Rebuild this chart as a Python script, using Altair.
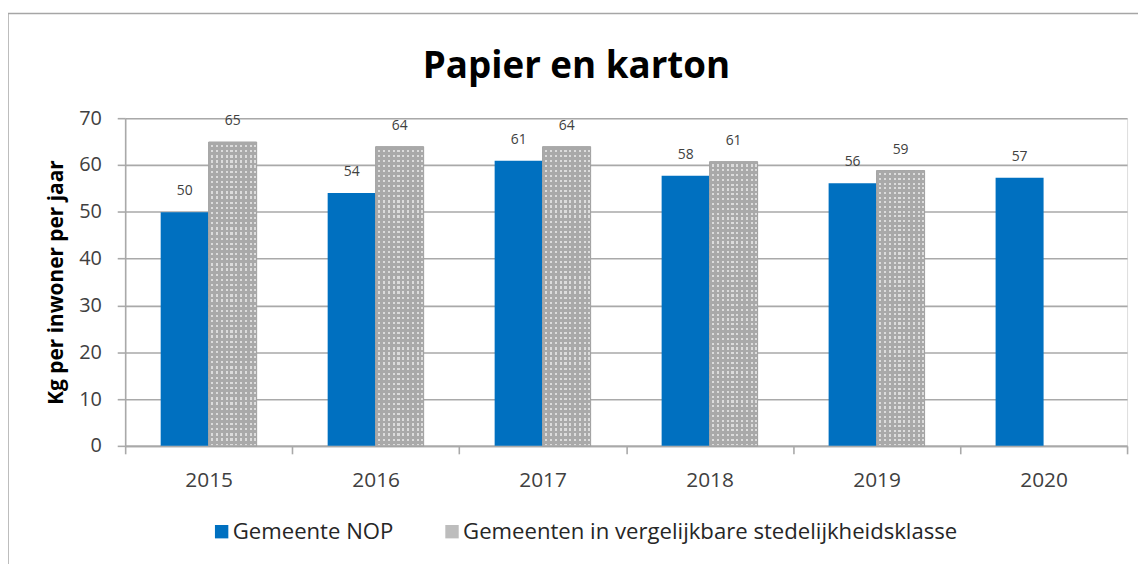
import altair as alt
import pandas as pd

years = ["2015", "2016", "2017", "2018", "2019", "2020"]
series = ["Gemeente NOP", "Gemeenten in vergelijkbare stedelijkheidsklasse"]
nop = [49.9, 54.0, 60.9, 57.7, 56.1, 57.3]
klasse = [64.9, 63.9, 63.9, 60.7, 58.8, None]

rows = []
for y, a, b in zip(years, nop, klasse):
    if a is not None:
        rows.append({"jaar": y, "reeks": series[0], "waarde": a})
    if b is not None:
        rows.append({"jaar": y, "reeks": series[1], "waarde": b})
df = pd.DataFrame(rows)

FONT = "Open Sans"
BLUE = "#0070c0"
GRAY = "#bdbdbd"
LINE = "#a9a9a9"


def stripes(n, frac, color, horizontal):
    stops = []
    for k in range(n):
        a = k / n
        b = (k + frac) / n
        c = (k + 1) / n
        stops += [
            alt.GradientStop(offset=a, color=color),
            alt.GradientStop(offset=b, color=color),
            alt.GradientStop(offset=b, color="rgba(0,0,0,0)"),
            alt.GradientStop(offset=c, color="rgba(0,0,0,0)"),
        ]
    if horizontal:
        return alt.LinearGradient(gradient="linear", stops=stops, x1=0, x2=0, y1=0, y2=1)
    return alt.LinearGradient(gradient="linear", stops=stops, x1=0, x2=1, y1=0, y2=0)


x_enc = alt.X(
    "jaar:N",
    sort=years,
    scale=alt.Scale(paddingInner=0, paddingOuter=0),
    axis=alt.Axis(
        title=None,
        labelAngle=0,
        labelFont=FONT,
        labelFontSize=21,
        labelColor="#404040",
        labelPadding=16,
        tickBand="extent",
        tickSize=8,
        tickColor=LINE,
        tickWidth=1.6,
        domainColor=LINE,
        domainWidth=1.6,
        grid=False,
    ),
)
xo_enc = alt.XOffset(
    "reeks:N",
    sort=series,
    scale=alt.Scale(domain=series, paddingInner=0, paddingOuter=0.74),
)
y_enc = alt.Y(
    "waarde:Q",
    scale=alt.Scale(domain=[0, 70], nice=False),
    axis=alt.Axis(
        title="Kg per inwoner per jaar",
        titleFont=FONT,
        titleFontSize=21,
        titleFontWeight="bold",
        titleColor="black",
        titleX=-69,
        titleY=165,
        titleAngle=-90,
        titleBaseline="middle",
        titleAlign="center",
        values=[0, 10, 20, 30, 40, 50, 60, 70],
        labelFont=FONT,
        labelFontSize=20,
        labelColor="#404040",
        labelPadding=16,
        tickSize=8,
        tickColor=LINE,
        tickWidth=1.6,
        domainColor=LINE,
        domainWidth=1.6,
        grid=True,
        gridColor=LINE,
        gridWidth=1.6,
    ),
)

base = alt.Chart(df)

bars = base.mark_bar().encode(
    x=x_enc,
    xOffset=xo_enc,
    y=y_enc,
    color=alt.Color(
        "reeks:N",
        sort=series,
        scale=alt.Scale(domain=series, range=[BLUE, GRAY]),
        legend=alt.Legend(
            title=None,
            orient="none",
            legendX=86,
            legendY=405,
            direction="horizontal",
            symbolType="square",
            symbolSize=182,
            symbolStrokeWidth=0,
            labelFont=FONT,
            labelFontSize=22.3,
            labelColor="#262626",
            labelOffset=0,
            columnPadding=47,
            padding=0,
            labelLimit=700,
        ),
    ),
)

gray_filter = alt.datum.reeks == series[1]
pattern_base = base.transform_filter(gray_filter).mark_bar(
    color="#dcdcdc", stroke="#9a9a9a", strokeWidth=1
).encode(x="jaar:N", xOffset="reeks:N", y="waarde:Q")
pattern_v = base.transform_filter(gray_filter).mark_bar(
    color=stripes(10, 0.55, LINE, False)
).encode(x="jaar:N", xOffset="reeks:N", y="waarde:Q")
pattern_h = base.transform_filter(gray_filter).mark_bar(
    color=stripes(59, 0.55, LINE, True)
).encode(x="jaar:N", xOffset="reeks:N", y="waarde:Q")

labels = base.mark_text(
    dy=-21, fontSize=14, font=FONT, color="#404040", baseline="middle"
).encode(
    x="jaar:N",
    xOffset="reeks:N",
    y="waarde:Q",
    text=alt.Text("waarde:Q", format=".0f"),
)

frame_df = pd.DataFrame({"k": [0]})
frame_left = alt.Chart(frame_df).mark_rule(color="#a6a6a6", strokeWidth=1.5).encode(
    x=alt.value(-118), y=alt.value(-105.5), y2=alt.value(460)
)
frame_top = alt.Chart(frame_df).mark_rule(color="#a6a6a6", strokeWidth=1.5).encode(
    x=alt.value(-118), x2=alt.value(1030), y=alt.value(-105.5)
)

chart = (
    alt.layer(bars, pattern_base, pattern_v, pattern_h, labels, frame_left, frame_top)
    .properties(
        width=1009,
        height=330,
        title=alt.TitleParams(
            "Papier en karton",
            font=FONT,
            fontSize=37,
            fontWeight="bold",
            color="black",
            anchor="middle",
            frame="group",
            dx=-50,
            offset=-103,
            baseline="alphabetic",
        ),
        autosize=alt.AutoSizeParams(type="none"),
        padding={"left": 118, "top": 109, "right": 11, "bottom": 117},
    )
    .configure_view(stroke=None)
    .configure(background="white")
)

chart.save("out.html", embed_options={"renderer": "svg", "actions": False})
